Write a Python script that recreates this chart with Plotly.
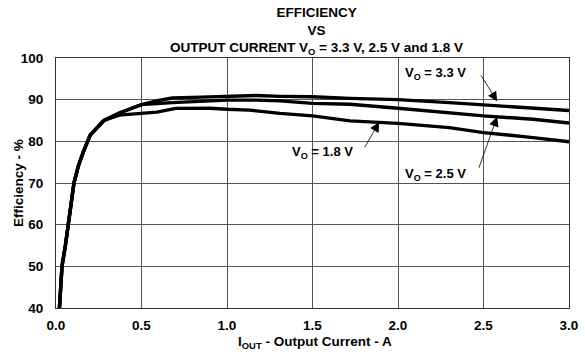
import plotly.graph_objects as go

x_low = [0.02, 0.035, 0.055, 0.07, 0.085, 0.105, 0.13, 0.16, 0.20, 0.28]
y_low = [40, 50, 55, 60, 65, 70, 74, 77.5, 81.5, 85]

x_33 = x_low + [0.37, 0.50, 0.60, 0.68, 0.85, 1.00, 1.17, 1.31, 1.50, 1.72, 2.00, 2.30, 2.50, 2.79, 3.00]
y_33 = y_low + [86.8, 88.8, 89.8, 90.4, 90.6, 90.8, 91.0, 90.8, 90.7, 90.3, 90.0, 89.3, 88.8, 87.95, 87.4]

x_25 = x_low + [0.37, 0.50, 0.68, 0.85, 1.00, 1.17, 1.31, 1.50, 1.72, 2.00, 2.30, 2.50, 2.79, 3.00]
y_25 = y_low + [86.8, 88.8, 89.3, 89.7, 89.9, 89.9, 89.7, 89.1, 88.9, 87.95, 86.9, 86.1, 85.3, 84.4]

x_18 = x_low + [0.37, 0.50, 0.59, 0.70, 0.90, 1.00, 1.13, 1.31, 1.50, 1.72, 2.00, 2.30, 2.50, 2.79, 3.00]
y_18 = y_low + [86.3, 86.7, 87.0, 87.9, 87.95, 87.7, 87.5, 86.7, 86.1, 84.9, 84.3, 83.3, 82.1, 80.9, 79.9]

x_ticks = [0.0, 0.5, 1.0, 1.5, 2.0, 2.5, 3.0]
y_ticks = [40, 50, 60, 70, 80, 90, 100]

FONT = "Arial, Liberation Sans, sans-serif"
W, H = 585, 361
L, R, T, B = 56, 16, 58, 53
PW, PH = W - L - R, H - T - B

def px_x(p):  # pixel x -> paper
    return (p - L) / PW

def px_y(p):  # pixel y -> paper
    return (H - B - p) / PH

fig = go.Figure()
for xs, ys, name in [(x_33, y_33, "3.3 V"), (x_25, y_25, "2.5 V"), (x_18, y_18, "1.8 V")]:
    fig.add_trace(go.Scatter(x=xs, y=ys, mode="lines", name=name,
                             line=dict(color="black", width=3.4)))

arrows = [
    dict(x=2.58, y=89.6, ax=2.48, ay=96.2),
    dict(x=2.58, y=85.9, ax=2.47, ay=73.3),
    dict(x=1.89, y=84.6, ax=1.80, ay=78.2),
]
for a in arrows:
    fig.add_annotation(x=a["x"], y=a["y"], ax=a["ax"], ay=a["ay"], xref="x", yref="y",
                       axref="x", ayref="y", text="", showarrow=True,
                       arrowhead=2, arrowsize=2.4, arrowwidth=0.8, arrowcolor="black")

labels = [
    (2.22, 96.3, "V<sub>O</sub> = 3.3 V"),
    (2.22, 72.1, "V<sub>O</sub> = 2.5 V"),
    (1.56, 77.3, "V<sub>O</sub> = 1.8 V"),
]
for lx, ly, t in labels:
    fig.add_annotation(x=lx, y=ly, xref="x", yref="y", text=t, showarrow=False,
                       font=dict(family=FONT, size=13, color="black", weight="bold"))

fig.add_annotation(x=px_x(316), y=px_y(3), xref="paper", yref="paper",
                   xanchor="center", yanchor="top", showarrow=False,
                   text="EFFICIENCY<br>VS<br>OUTPUT CURRENT V<sub>O</sub> = 3.3 V, 2.5 V and 1.8 V",
                   font=dict(family=FONT, size=13.5, color="black", weight="bold"))
fig.add_annotation(x=px_x(315), y=px_y(342), xref="paper", yref="paper",
                   xanchor="center", yanchor="middle", showarrow=False,
                   text="I<sub>OUT</sub> - Output Current - A",
                   font=dict(family=FONT, size=13.5, color="black", weight="bold"))
fig.add_annotation(x=px_x(18), y=px_y(183), xref="paper", yref="paper",
                   xanchor="center", yanchor="middle", showarrow=False, textangle=-90,
                   text="Efficiency - %",
                   font=dict(family=FONT, size=13.5, color="black", weight="bold"))

fig.update_layout(
    width=W, height=H,
    margin=dict(l=L, r=R, t=T, b=B, autoexpand=False),
    paper_bgcolor="white", plot_bgcolor="white",
    showlegend=False,
    font=dict(family=FONT, size=13, color="black", weight="bold"),
)
fig.update_xaxes(range=[0, 3], tickvals=x_ticks, ticktext=[f"{v:.1f}" for v in x_ticks],
                 showgrid=True, gridcolor="#555", gridwidth=1,
                 showline=True, linecolor="#333", linewidth=1, mirror=True,
                 zeroline=False, ticks="", ticklen=0, automargin=False,
                 ticklabelstandoff=5,
                 tickfont=dict(family=FONT, size=13.5, weight="bold"))
fig.update_yaxes(range=[40, 100], tickvals=y_ticks,
                 showgrid=True, gridcolor="#555", gridwidth=1,
                 showline=True, linecolor="#333", linewidth=1, mirror=True,
                 zeroline=False, ticks="", ticklen=0, automargin=False,
                 ticklabelstandoff=9,
                 tickfont=dict(family=FONT, size=13.5, weight="bold"))

fig.write_html("out.html", config={"displayModeBar": False},
               post_script="document.body.style.margin='0';")
